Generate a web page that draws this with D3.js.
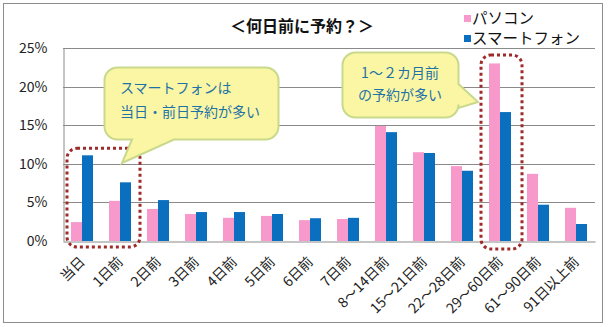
<!DOCTYPE html>
<html><head><meta charset="utf-8">
<script src="https://cdn.jsdelivr.net/npm/d3@7"></script>
<style>
html,body{margin:0;padding:0;background:#fff;}
text{font-family:"Noto Sans CJK JP","Noto Sans",sans-serif;}
</style></head>
<body>
<svg id="chart" width="610" height="327"></svg>
<script>
const categories = ["当日","1日前","2日前","3日前","4日前","5日前","6日前","7日前","8～14日前","15～21日前","22～28日前","29～60日前","61～90日前","91日以上前"];
const seriesNames = ["パソコン","スマートフォン"];
const pcValues = [2.45, 5.2, 4.15, 3.5, 3.0, 3.25, 2.7, 2.85, 14.9, 11.5, 9.7, 23.0, 8.7, 4.3];
const spValues = [11.1, 7.6, 5.3, 3.75, 3.75, 3.5, 2.95, 3.0, 14.1, 11.4, 9.1, 16.7, 4.7, 2.2];
const yTicks = [0, 5, 10, 15, 20, 25];
const colors = ["#F79ACB", "#0A6FBE"];
const title = "＜何日前に予約？＞";
const note1 = ["スマートフォンは", "当日・前日予約が多い"];
const note2 = ["1～２カ月前", "の予約が多い"];

(function(){
const svg = d3.select("#chart");
svg.append("rect").attr("x",3.5).attr("y",3.5).attr("width",599).attr("height",319)
  .attr("fill","#fff").attr("stroke","#8c8c8c").attr("stroke-width",1);

const pLeft = 63, pRight = 595, pTop = 48, pBottom = 241;
const x0 = d3.scaleBand().domain(categories).range([pLeft, pRight]).padding(0);
const x1 = d3.scaleBand().domain(seriesNames).range([0, x0.bandwidth()]).paddingInner(0).paddingOuter(0.727);
const y = d3.scaleLinear().domain([0, 25]).range([pBottom, pTop]);

// gridlines
svg.append("g").selectAll("line").data(yTicks.filter(d=>d>0)).join("line")
  .attr("x1", pLeft).attr("x2", pRight)
  .attr("y1", d=>Math.round(y(d))+0.5).attr("y2", d=>Math.round(y(d))+0.5)
  .attr("stroke","#8a8a8a").attr("stroke-width",1);

// y axis
const yAxis = d3.axisLeft(y).tickValues(yTicks).tickFormat(d=>d+"%").tickSize(0).tickPadding(16);
const yg = svg.append("g").attr("transform",`translate(${pLeft+0.5},0)`).call(yAxis);
yg.select(".domain").attr("stroke","#8a8a8a");
yg.selectAll("text").attr("font-size",14).attr("fill","#222");

// bars
const data = categories.map((c,i)=>({c, vals:[pcValues[i], spValues[i]]}));
const groups = svg.append("g").selectAll("g").data(data).join("g")
  .attr("transform", d=>`translate(${x0(d.c)},0)`);
groups.selectAll("rect").data(d=>d.vals.map((v,j)=>({s:seriesNames[j], v, j}))).join("rect")
  .attr("x", d=>x1(d.s)).attr("width", x1.bandwidth())
  .attr("y", d=>y(d.v)).attr("height", d=>y(0)-y(d.v))
  .attr("fill", d=>colors[d.j]);

// x axis
const xAxis = d3.axisBottom(x0).tickSize(0).tickPadding(0);
const xg = svg.append("g").attr("transform",`translate(0,${pBottom+0.5})`).call(xAxis);
xg.select(".domain").attr("stroke","#8a8a8a");
xg.selectAll("text").attr("font-size",14).attr("fill","#222")
  .attr("text-anchor","end").attr("dy",null).attr("y",null)
  .attr("transform","translate(4,21) rotate(-45)");

// title
svg.append("text").attr("x",302).attr("y",32).attr("text-anchor","middle")
  .attr("font-size",16).attr("font-weight","bold").attr("fill","#111").text(title);

// legend
const lg = svg.append("g");
seriesNames.forEach((s,i)=>{
  lg.append("rect").attr("x",464).attr("y",15+i*20).attr("width",7).attr("height",7).attr("fill",colors[i]);
  lg.append("text").attr("x",472).attr("y",23.5+i*20).attr("font-size",15.5).attr("fill","#111").text(s);
});

// dotted boxes
function dotted(x,yy,w,h){
  svg.append("rect").attr("x",x).attr("y",yy).attr("width",w).attr("height",h)
    .attr("rx",10).attr("fill","none").attr("stroke","#9E2A2A").attr("stroke-width",3)
    .attr("stroke-dasharray","3,3");
}
dotted(x0(categories[0])+4, y(12), x0(categories[1])+x0.bandwidth()-x0(categories[0])-3, pBottom+6-y(12));
dotted(x0(categories[11]), y(24.1), 41, pBottom+8-y(24.1));

// callouts
const fillC = "#FAF6A4", strokeC = "#C9D98C", textC = "#1F72A6";
function calloutBottom(x,yy,w,h,r,tl,tr,tip){
  return `M${x+r},${yy} H${x+w-r} A${r},${r} 0 0 1 ${x+w},${yy+r} V${yy+h-r} A${r},${r} 0 0 1 ${x+w-r},${yy+h} H${tr} L${tip[0]},${tip[1]} L${tl},${yy+h} H${x+r} A${r},${r} 0 0 1 ${x},${yy+h-r} V${yy+r} A${r},${r} 0 0 1 ${x+r},${yy} Z`;
}
function calloutRight(x,yy,w,h,r,tt,tb,tip){
  return `M${x+r},${yy} H${x+w-r} A${r},${r} 0 0 1 ${x+w},${yy+r} V${tt} L${tip[0]},${tip[1]} L${x+w},${tb} V${yy+h-r} A${r},${r} 0 0 1 ${x+w-r},${yy+h} H${x+r} A${r},${r} 0 0 1 ${x},${yy+h-r} V${yy+r} A${r},${r} 0 0 1 ${x+r},${yy} Z`;
}
svg.append("path").attr("d", calloutBottom(104.5,67.5,174,72,13,132,174,[122,163]))
  .attr("fill",fillC).attr("stroke",strokeC).attr("stroke-width",2);
note1.forEach((t,i)=>svg.append("text").attr("x",120).attr("y",93+i*24).attr("font-size",14).attr("fill",textC).text(t));

svg.append("path").attr("d", calloutRight(342.5,52.5,116,65,13,84,108,[478,102]))
  .attr("fill",fillC).attr("stroke",strokeC).attr("stroke-width",2);
note2.forEach((t,i)=>svg.append("text").attr("x",400).attr("y",78+i*22).attr("text-anchor","middle").attr("font-size",14).attr("fill",textC).text(t));
})();
</script>
</body></html>
